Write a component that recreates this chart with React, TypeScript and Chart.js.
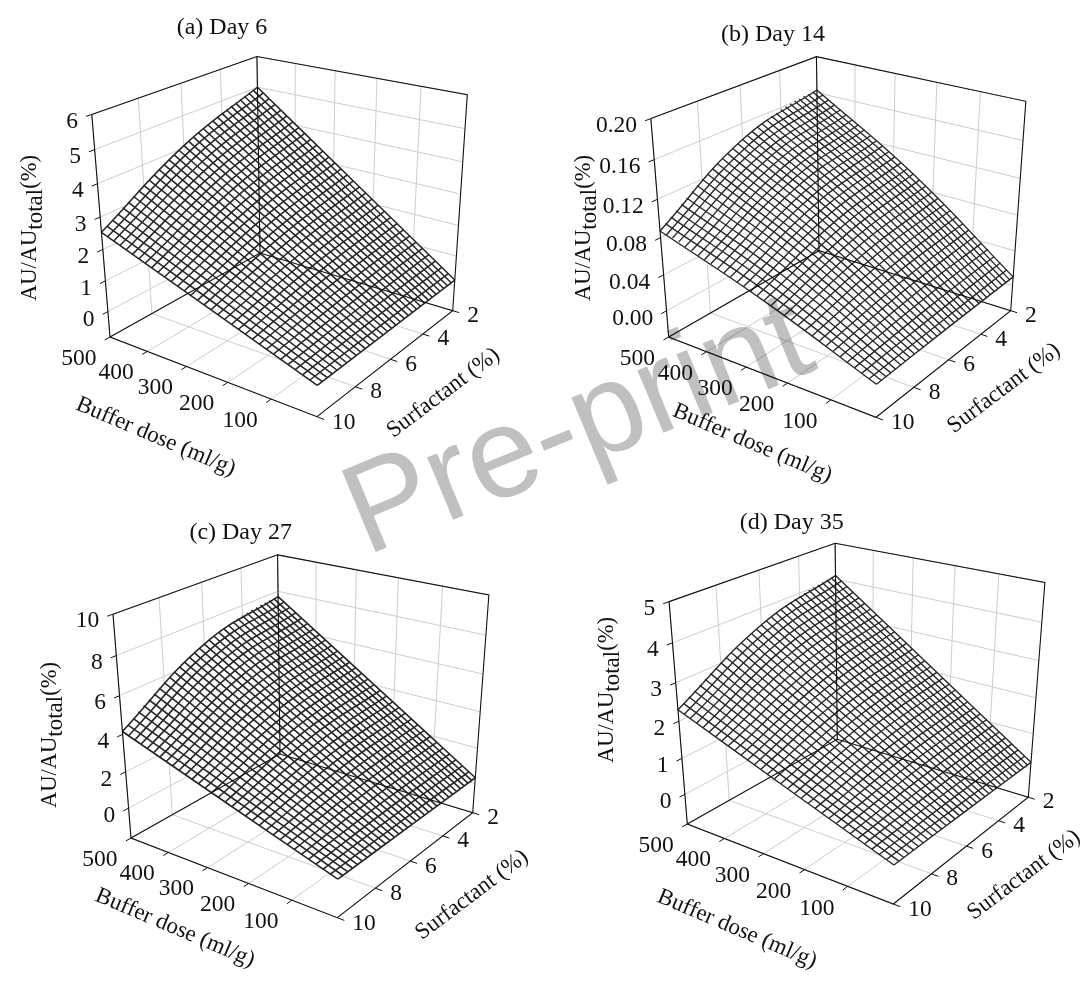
import React, { useEffect, useRef } from "react";
import { Chart, registerables } from "chart.js";

Chart.register(...registerables);

// Mesh levels of the response surfaces
const bufferGrid = [0,15.625,31.25,46.875,62.5,78.125,93.75,109.375,125,140.625,156.25,171.875,187.5,203.125,218.75,234.375,250,265.625,281.25,296.875,312.5,328.125,343.75,359.375,375,390.625,406.25,421.875,437.5,453.125,468.75,484.375,500];
const surfactantGrid = [2,2.25,2.5,2.75,3,3.25,3.5,3.75,4,4.25,4.5,4.75,5,5.25,5.5,5.75,6,6.25,6.5,6.75,7,7.25,7.5,7.75,8,8.25,8.5,8.75,9,9.25,9.5,9.75,10];
const bufferTicks = [500,400,300,200,100];
const surfactantTicks = [2,4,6,8,10];

// Day 6: sections along surfactant at buffer 0 / 250 / 500
const day6AtBuffer0 = [.20,.20,.19,.19,.19,.18,.18,.18,.18,.17,.17,.17,.16,.16,.16,.15,.15,.15,.14,.14,.14,.13,.13,.13,.13,.12,.12,.12,.11,.11,.11,.10,.10];
const day6AtBuffer250 = [2.60,2.58,2.55,2.53,2.50,2.47,2.45,2.42,2.39,2.36,2.33,2.30,2.27,2.23,2.19,2.16,2.12,2.08,2.04,1.99,1.95,1.90,1.86,1.81,1.76,1.71,1.66,1.61,1.56,1.50,1.45,1.39,1.32];
const day6AtBuffer500 = [5.00,4.96,4.92,4.87,4.82,4.77,4.72,4.66,4.61,4.55,4.49,4.42,4.36,4.29,4.21,4.14,4.07,3.99,3.91,3.82,3.74,3.65,3.56,3.47,3.37,3.28,3.18,3.07,2.97,2.86,2.75,2.64,2.53];
// Day 6: sections along buffer at surfactant 2 / 6 / 10
const day6AtSurf2 = [.20,.35,.50,.65,.80,.95,1.10,1.25,1.40,1.55,1.70,1.85,2.00,2.15,2.30,2.45,2.60,2.75,2.90,3.05,3.20,3.35,3.50,3.65,3.80,3.95,4.10,4.25,4.40,4.55,4.70,4.85,5.00];
const day6AtSurf6 = [.15,.27,.40,.52,.64,.76,.89,1.01,1.13,1.25,1.38,1.50,1.62,1.74,1.87,1.99,2.11,2.23,2.36,2.48,2.60,2.72,2.85,2.97,3.09,3.21,3.34,3.46,3.58,3.70,3.83,3.95,4.07];
const day6AtSurf10 = [.10,.18,.25,.33,.40,.48,.56,.63,.71,.78,.86,.93,1.01,1.09,1.16,1.24,1.32,1.39,1.47,1.54,1.62,1.69,1.77,1.85,1.92,2.00,2.07,2.15,2.23,2.30,2.38,2.45,2.53];

// Day 14
const day14AtBuffer0 = [.010,.010,.010,.010,.009,.009,.009,.009,.009,.009,.008,.008,.008,.008,.008,.008,.008,.007,.007,.007,.007,.007,.006,.006,.006,.006,.006,.006,.005,.005,.005,.005,.005];
const day14AtBuffer250 = [.095,.095,.094,.094,.094,.094,.093,.092,.092,.091,.090,.089,.088,.087,.086,.085,.084,.082,.081,.079,.077,.076,.074,.073,.071,.069,.067,.065,.062,.059,.057,.054,.050];
const day14AtBuffer500 = [.163,.163,.162,.162,.161,.161,.160,.159,.158,.156,.155,.153,.151,.150,.147,.145,.143,.141,.138,.135,.132,.129,.126,.123,.120,.116,.112,.108,.104,.100,.096,.092,.087];
const day14AtSurf2 = [.010,.016,.022,.027,.033,.038,.044,.049,.054,.060,.065,.070,.075,.080,.085,.090,.095,.099,.104,.109,.113,.118,.122,.126,.131,.135,.139,.143,.147,.151,.155,.159,.163];
const day14AtSurf6 = [.008,.012,.017,.022,.027,.032,.037,.041,.046,.050,.055,.060,.064,.069,.073,.077,.081,.085,.090,.094,.098,.102,.106,.110,.114,.117,.121,.125,.129,.132,.136,.139,.143];
const day14AtSurf10 = [.005,.008,.011,.014,.017,.020,.023,.026,.028,.031,.034,.037,.040,.042,.045,.047,.050,.053,.055,.058,.060,.063,.065,.067,.070,.072,.074,.077,.079,.082,.084,.085,.087];

// Day 27
const day27AtBuffer0 = [.33,.33,.33,.33,.33,.33,.33,.33,.32,.32,.32,.32,.32,.32,.32,.32,.32,.31,.31,.31,.31,.31,.31,.31,.31,.31,.31,.30,.30,.30,.30,.30,.30];
const day27AtBuffer250 = [4.02,4.01,4.00,3.99,3.98,3.96,3.94,3.91,3.89,3.86,3.82,3.79,3.75,3.70,3.65,3.60,3.55,3.49,3.43,3.36,3.30,3.22,3.15,3.07,2.99,2.90,2.81,2.72,2.63,2.53,2.43,2.33,2.22];
const day27AtBuffer500 = [7.70,7.69,7.68,7.66,7.63,7.59,7.55,7.50,7.45,7.39,7.32,7.25,7.17,7.08,6.98,6.88,6.78,6.66,6.54,6.41,6.28,6.14,5.99,5.84,5.67,5.51,5.33,5.15,4.97,4.77,4.57,4.36,4.15];
const day27AtSurf2 = [.33,.56,.79,1.02,1.25,1.48,1.71,1.94,2.17,2.40,2.63,2.86,3.09,3.32,3.55,3.78,4.02,4.25,4.48,4.71,4.94,5.17,5.40,5.63,5.86,6.09,6.32,6.55,6.78,7.01,7.24,7.47,7.70];
const day27AtSurf6 = [.32,.52,.72,.92,1.12,1.33,1.53,1.73,1.93,2.13,2.34,2.54,2.74,2.94,3.14,3.35,3.55,3.75,3.95,4.15,4.36,4.56,4.76,4.96,5.16,5.37,5.57,5.77,5.97,6.17,6.38,6.58,6.78];
const day27AtSurf10 = [.30,.42,.54,.66,.78,.90,1.02,1.14,1.26,1.38,1.50,1.62,1.74,1.86,1.98,2.10,2.22,2.35,2.47,2.59,2.71,2.83,2.95,3.07,3.19,3.31,3.43,3.55,3.67,3.79,3.91,4.03,4.15];

// Day 35
const day35AtBuffer0 = [.18,.18,.18,.18,.18,.18,.18,.18,.18,.18,.18,.18,.18,.18,.18,.18,.18,.17,.17,.17,.17,.17,.17,.17,.17,.17,.17,.17,.17,.17,.17,.17,.17];
const day35AtBuffer250 = [2.14,2.13,2.12,2.11,2.10,2.09,2.08,2.06,2.05,2.03,2.01,1.99,1.97,1.94,1.92,1.89,1.87,1.84,1.81,1.78,1.74,1.71,1.67,1.63,1.59,1.55,1.51,1.47,1.42,1.38,1.33,1.28,1.23];
const day35AtBuffer500 = [4.10,4.09,4.07,4.05,4.03,4.01,3.98,3.95,3.92,3.89,3.85,3.81,3.76,3.72,3.67,3.62,3.56,3.50,3.44,3.38,3.31,3.24,3.17,3.10,3.02,2.94,2.86,2.77,2.68,2.59,2.50,2.40,2.30];
const day35AtSurf2 = [.18,.30,.43,.55,.67,.79,.92,1.04,1.16,1.28,1.41,1.53,1.65,1.77,1.90,2.02,2.14,2.26,2.39,2.51,2.63,2.75,2.88,3.00,3.12,3.24,3.37,3.49,3.61,3.73,3.86,3.98,4.10];
const day35AtSurf6 = [.18,.28,.39,.49,.60,.70,.81,.92,1.02,1.13,1.23,1.34,1.44,1.55,1.66,1.76,1.87,1.97,2.08,2.19,2.29,2.40,2.50,2.61,2.71,2.82,2.93,3.03,3.14,3.24,3.35,3.45,3.56];
const day35AtSurf10 = [.17,.24,.30,.37,.44,.50,.57,.64,.70,.77,.84,.90,.97,1.04,1.10,1.17,1.24,1.30,1.37,1.44,1.50,1.57,1.64,1.70,1.77,1.84,1.90,1.97,2.03,2.10,2.17,2.23,2.30];

type P2 = [number, number];
interface Panel {
  title: string; titlePos: P2; meshWidth: number;
  zMin: number; zMax: number; zTicks: string[];
  b: P2; l: P2; f: P2; r: P2; bTop: P2; lTop: P2; rTop: P2;
  yTitle: P2; bufferTitle: P2; surfTitle: P2;
  atBuffer: number[][]; atSurf: number[][];
}

const panels: Panel[] = [
  { title: "(a) Day 6", titlePos: [222, 28], meshWidth: 1.55, zMin: -0.85, zMax: 6, zTicks: ["0","1","2","3","4","5","6"],
    b: [260,253], l: [110,337], f: [317,416.7], r: [452.7,310.7], bTop: [259,57], lTop: [92,117], rTop: [467,99],
    yTitle: [36,228], bufferTitle: [155.7,436.7], surfTitle: [443.3,393],
    atBuffer: [day6AtBuffer0, day6AtBuffer250, day6AtBuffer500], atSurf: [day6AtSurf2, day6AtSurf6, day6AtSurf10] },
  { title: "(b) Day 14", titlePos: [773,35], meshWidth: 1.35, zMin: -0.03, zMax: 0.2, zTicks: ["0.00","0.04","0.08","0.12","0.16","0.20"],
    b: [819,250.7], l: [668.7,337], f: [876,417.3], r: [1010.7,310.7], bTop: [817.3,56.7], lTop: [650.7,116.7], rTop: [1026,99],
    yTitle: [590,228], bufferTitle: [752.4,443.4], surfTitle: [1004,388.3],
    atBuffer: [day14AtBuffer0, day14AtBuffer250, day14AtBuffer500], atSurf: [day14AtSurf2, day14AtSurf6, day14AtSurf10] },
  { title: "(c) Day 27", titlePos: [240.7,533], meshWidth: 1.6, zMin: -1.7, zMax: 10, zTicks: ["0","2","4","6","8","10"],
    b: [280,754], l: [131,838], f: [337.3,917.7], r: [472.7,812.7], bTop: [279.3,558.3], lTop: [113.3,618.3], rTop: [488.5,600],
    yTitle: [56,735], bufferTitle: [175,928], surfTitle: [472,895],
    atBuffer: [day27AtBuffer0, day27AtBuffer250, day27AtBuffer500], atSurf: [day27AtSurf2, day27AtSurf6, day27AtSurf10] },
  { title: "(d) Day 35", titlePos: [791.7,523], meshWidth: 1.4, zMin: -0.85, zMax: 5, zTicks: ["0","1","2","3","4","5"],
    b: [837.3,739.3], l: [687.3,824], f: [893.3,904], r: [1028.3,797.3], bTop: [835.3,543.3], lTop: [669.3,604], rTop: [1044.6,586],
    yTitle: [613,690], bufferTitle: [737,929], surfTitle: [1024,875],
    atBuffer: [day35AtBuffer0, day35AtBuffer250, day35AtBuffer500], atSurf: [day35AtSurf2, day35AtSurf6, day35AtSurf10] },
];

const cross = (a: number[], b: number[]) => [a[1]*b[2]-a[2]*b[1], a[2]*b[0]-a[0]*b[2], a[0]*b[1]-a[1]*b[0]];
const dot = (a: number[], b: number[]) => a[0]*b[0]+a[1]*b[1]+a[2]*b[2];
const hom = (p: P2) => [p[0], p[1], 1];
const meet = (a: P2, b: P2, c: P2, d: P2) => {
  const v = cross(cross(hom(a), hom(b)), cross(hom(c), hom(d)));
  const n = Math.hypot(v[0], v[1], v[2]);
  return v.map((x) => x / n);
};
const coef = (v: number[], o: number[], target: P2) => {
  const t = hom(target);
  const tv = cross(t, v), to = cross(t, o);
  return -dot(to, tv) / dot(tv, tv);
};

// Perspective camera of one box, built from its corners.
function makeProjector(p: Panel) {
  const o = hom(p.b);
  const vu = meet(p.b, p.r, p.l, p.f);
  const vv = meet(p.b, p.l, p.r, p.f);
  const vw = meet(p.lTop, p.l, p.rTop, p.r);
  const ku = coef(vu, o, p.r), kv = coef(vv, o, p.l), kw = coef(vw, o, p.bTop);
  return (buffer: number, surf: number, z: number) => {
    const u = (500 - buffer) / 500, v = (surf - 2) / 8, w = (z - p.zMin) / (p.zMax - p.zMin);
    const h = [0, 1, 2].map((i) => o[i] + u*ku*vu[i] + v*kv*vv[i] + w*kw*vw[i]);
    return { x: h[0] / h[2], y: h[1] / h[2] };
  };
}

const GRAY = "#cdcdcd", INK = "#111111", MESH = "#262626";
const TICK_BUFFER = 15, TICK_SURF = 0.24, TICK_Z_SURF = 10.24;

function line(data: {x:number;y:number}[], color: string, width: number, tension = 0) {
  return { data, showLine: true, borderColor: color, borderWidth: width, pointRadius: 0, tension, fill: false as any, clip: false as any };
}

function buildDatasets() {
  const out: any[] = [];
  for (const p of panels) {
    const pr = makeProjector(p);
    const zs = p.zTicks.map(Number);
    const gray: any[] = [];
    for (const b of bufferTicks) {
      gray.push(line([pr(b,2,p.zMin), pr(b,10 ,p.zMin)], GRAY, 1));
      gray.push(line([pr(b,2,p.zMin), pr(b,2,p.zMax)], GRAY, 1));
    }
    for (const s of surfactantTicks) {
      gray.push(line([pr(0,s,p.zMin), pr(500,s,p.zMin)], GRAY, 1));
      gray.push(line([pr(500,s,p.zMin), pr(500,s,p.zMax)], GRAY, 1));
    }
    for (const z of zs) {
      gray.push(line([pr(500,10,z), pr(500,2,z), pr(0,2,z)], GRAY, 1));
    }
    const [a0, a250, a500] = p.atBuffer;
    const [s2, s6, s10] = p.atSurf;
    const ring = [
      ...surfactantGrid.map((s, i) => pr(500, s, a500[i])),
      ...bufferGrid.map((b, j) => pr(b, 10, s10[j])).reverse(),
      ...surfactantGrid.map((s, i) => pr(0, s, a0[i])).reverse(),
      ...bufferGrid.map((b, j) => pr(b, 2, s2[j])),
    ];
    const fillSet = { data: ring, showLine: true, borderWidth: 0, borderColor: "rgba(0,0,0,0)", pointRadius: 0, tension: 0, fill: "shape", backgroundColor: "rgba(255,255,255,0.62)" };
    const mesh: any[] = [];
    surfactantGrid.forEach((s, i) => {
      mesh.push(line([pr(0,s,a0[i]), pr(250,s,a250[i]), pr(500,s,a500[i])], MESH, p.meshWidth, 0.45));
    });
    bufferGrid.forEach((b, j) => {
      mesh.push(line([pr(b,2,s2[j]), pr(b,6,s6[j]), pr(b,10,s10[j])], MESH, p.meshWidth, 0.45));
    });
    const box = [
      [pr(500,10,p.zMax), pr(500,2,p.zMax), pr(0,2,p.zMax), pr(0,2,p.zMin)],
      [pr(500,2,p.zMax), pr(500,2,p.zMin)],
      [pr(500,10,p.zMax), pr(500,10,p.zMin), pr(0,10,p.zMin), pr(0,2,p.zMin), pr(500,2,p.zMin), pr(500,10,p.zMin)],
    ].map((d) => line(d, INK, 1.1));
    const ticks: any[] = [];
    for (const z of zs) ticks.push(line([pr(500,10,z), pr(500,TICK_Z_SURF,z)], INK, 1));
    for (const b of bufferTicks) ticks.push(line([pr(b,10,p.zMin), pr(b,10+TICK_SURF,p.zMin)], INK, 1));
    for (const s of surfactantTicks) ticks.push(line([pr(0,s,p.zMin), pr(-TICK_BUFFER,s,p.zMin)], INK, 1));
    out.push(...gray, fillSet, ...mesh, ...box, ...ticks);
  }
  return out.reverse(); // Chart.js paints the last dataset first
}

const SERIF = '"Liberation Serif", "Times New Roman", serif';

const textPlugin = {
  id: "figureText",
  afterDraw(chart: any) {
    const c: CanvasRenderingContext2D = chart.ctx;
    c.save();
    c.fillStyle = "#111";
    for (const p of panels) {
      const pr = makeProjector(p);
      c.textBaseline = "middle";
      c.textAlign = "center";
      c.font = `24px ${SERIF}`;
      c.fillText(p.title, p.titlePos[0], p.titlePos[1]);
      c.font = `23.5px ${SERIF}`;
      c.textAlign = "right";
      for (const t of p.zTicks) {
        const e = pr(500, TICK_Z_SURF, Number(t));
        c.fillText(t, e.x - 8, e.y + 5);
      }
      c.textAlign = "center";
      for (const b of bufferTicks) {
        const e = pr(b, 10 + TICK_SURF, p.zMin);
        c.fillText(String(b), e.x - 26, e.y + 18.5);
      }
      c.textAlign = "left";
      for (const s of surfactantTicks) {
        const e = pr(-TICK_BUFFER, s, p.zMin);
        c.fillText(String(s), e.x + 8, e.y + 3);
      }
      // rotated axis titles
      c.textAlign = "center";
      c.font = `23px ${SERIF}`;
      c.save();
      c.translate(p.bufferTitle[0], p.bufferTitle[1]);
      c.rotate((23 * Math.PI) / 180);
      c.fillText("Buffer dose (ml/g)", 0, 0);
      c.restore();
      c.save();
      c.translate(p.surfTitle[0], p.surfTitle[1]);
      c.rotate((-37 * Math.PI) / 180);
      c.fillText("Surfactant (%)", 0, 0);
      c.restore();
      // vertical title with subscript
      c.save();
      c.translate(p.yTitle[0], p.yTitle[1]);
      c.rotate(-Math.PI / 2);
      c.textBaseline = "alphabetic";
      c.textAlign = "left";
      const main = `22.5px ${SERIF}`, sub = `23px ${SERIF}`;
      c.font = main;
      const w1 = c.measureText("AU/AU").width;
      const w3 = c.measureText("(%)").width;
      c.font = sub;
      const w2 = c.measureText("total").width;
      let x = -(w1 + w2 + w3) / 2;
      c.font = main;
      c.fillText("AU/AU", x, 0);
      x += w1;
      c.font = sub;
      c.fillText("total", x, 6);
      x += w2;
      c.font = main;
      c.fillText("(%)", x, 0);
      c.restore();
    }
    // watermark
    c.globalCompositeOperation = "multiply";
    c.translate(366, 556);
    c.rotate((-22.5 * Math.PI) / 180);
    c.font = '128px "Liberation Sans", Arial, sans-serif';
    c.textAlign = "left";
    c.textBaseline = "alphabetic";
    c.fillStyle = "#c0c0c0";
    c.fillText("Pre-print", 0, 0);
    c.restore();
  },
};

export default function App() {
  const ref = useRef<HTMLCanvasElement>(null);
  useEffect(() => {
    const chart = new Chart(ref.current as HTMLCanvasElement, {
      type: "scatter",
      data: { datasets: buildDatasets() },
      options: {
        responsive: false,
        animation: false,
        layout: { padding: 0 },
        events: [],
        scales: {
          x: { type: "linear", min: 0, max: 1082, display: false },
          y: { type: "linear", min: 0, max: 981, reverse: true, display: false },
        },
        plugins: { legend: { display: false }, tooltip: { enabled: false } },
      },
      plugins: [textPlugin],
    } as any);
    return () => chart.destroy();
  }, []);
  return <canvas ref={ref} width={1082} height={981} style={{ position: "fixed", left: 0, top: 0, display: "block" }} />;
}
